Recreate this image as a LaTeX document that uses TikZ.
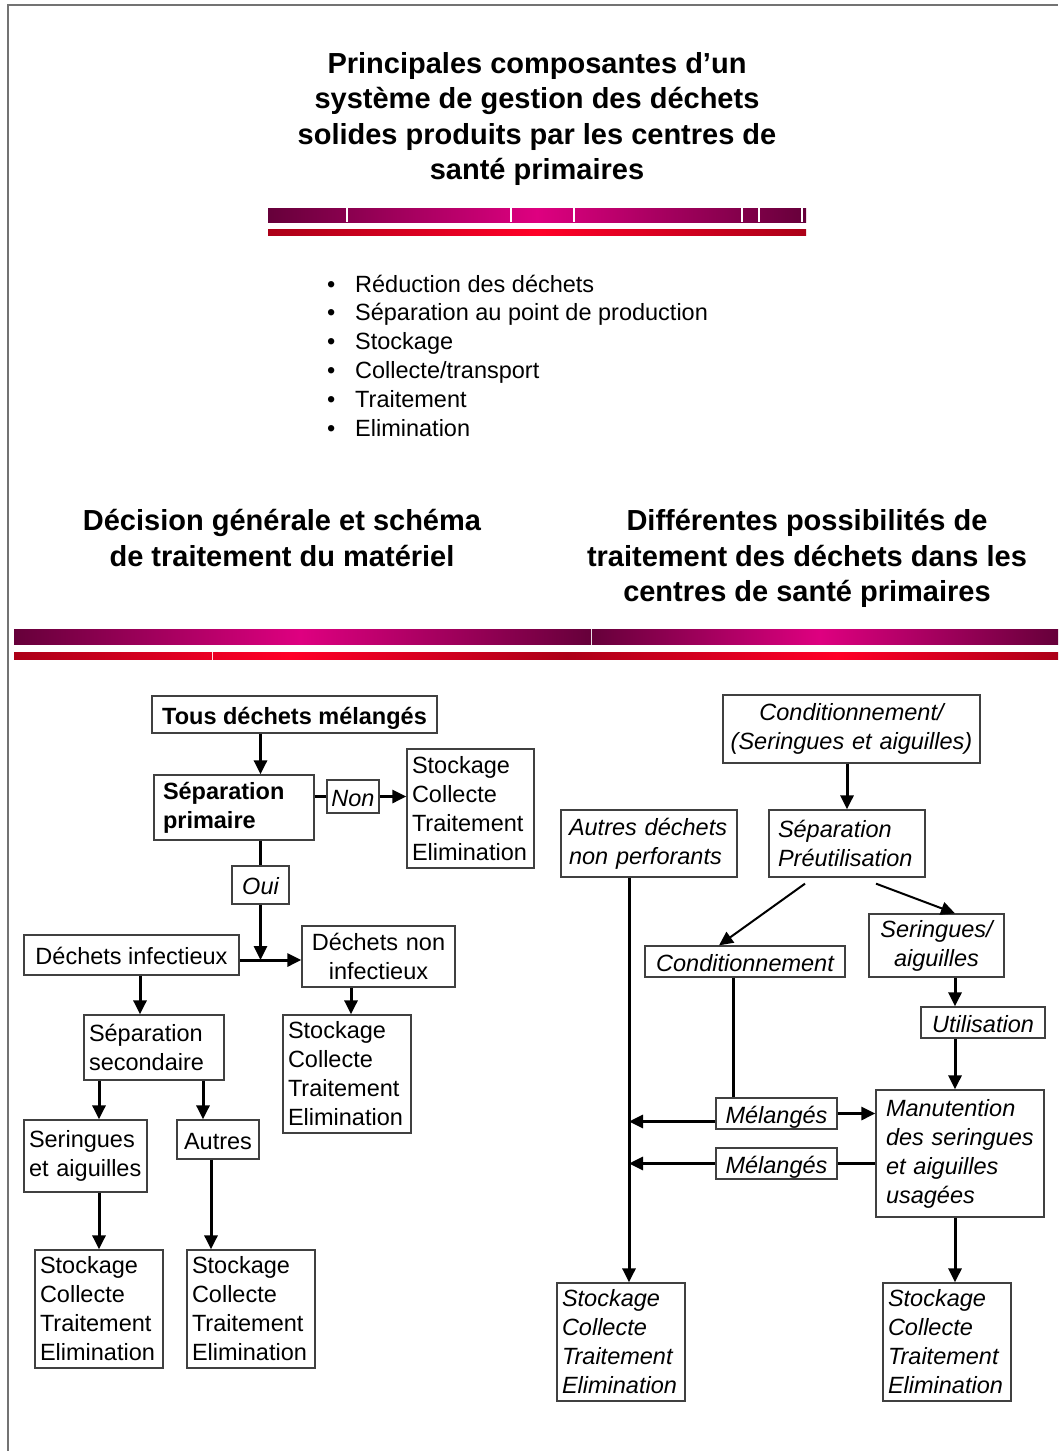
\documentclass[tikz,border=0pt]{standalone}
\usepackage{fontspec}
\setmainfont{Liberation Sans}
\usetikzlibrary{arrows.meta}
\definecolor{magdark}{RGB}{102,0,58}
\definecolor{magbright}{RGB}{222,0,128}
\definecolor{reddark}{RGB}{172,0,24}
\definecolor{redbright}{RGB}{255,0,40}

\begin{document}
\begin{tikzpicture}[x=1pt,y=-1pt,
  box/.style={draw=black!75,line width=1.3pt,inner xsep=5pt,inner ysep=2pt,align=left,font=\fontsize{23.5}{29}\selectfont},
  boxb/.style={box,font=\fontsize{23.5}{29}\selectfont\bfseries},
  boxi/.style={box,font=\fontsize{23.5}{29}\selectfont\itshape},
  oneline/.style={text height=21pt,text depth=2pt},
  arr/.style={line width=3pt,-{Triangle[length=14pt,width=13pt]}},
  ln/.style={line width=3pt},
  heading/.style={align=center,font=\fontsize{29}{35.5}\selectfont\bfseries}]

\useasboundingbox (0,0) rectangle (1058,1451);
\draw[black!55,line width=2pt] (8,1451) -- (8,5) -- (1058,5);

% title and bars
\node[heading] (title) at (537,119) {Principales composantes d’un\\système de gestion des déchets\\solides produits par les centres de\\santé primaires};
\shade[left color=magdark,right color=magbright] (268,208) rectangle (537,222);
\shade[left color=magbright,right color=magdark] (537,208) rectangle (806,222);
\foreach \xs in {347,511,574,742,759,802}
  \draw[white,line width=1.5pt] (\xs,208) -- (\xs,222);
\shade[left color=reddark,right color=redbright] (268,229) rectangle (537,235);
\shade[left color=redbright,right color=reddark] (537,229) rectangle (806,235);

% bullet list
\foreach \txt [count=\i] in {Réduction des déchets,Séparation au point de production,Stockage,Collecte/transport,Traitement,Elimination}
  \node[anchor=base west,inner sep=0pt,font=\fontsize{23.5}{29}\selectfont] (item\i) at (327,263.2+28.8*\i) {\makebox[28pt][l]{\textbullet}\txt};

% section headings
\node[heading] (lefthead) at (282,538) {Décision générale et schéma\\de traitement du matériel};
\node[heading] (righthead) at (807,558.5) {Différentes possibilités de\\traitement des déchets dans les\\centres de santé primaires};

\shade[left color=magdark,right color=magbright] (14,629) rectangle (300,644);
\shade[left color=magbright,right color=magdark] (300,629) rectangle (591,644);
\shade[left color=magdark,right color=magbright] (592,629) rectangle (820,644);
\shade[left color=magbright,right color=magdark] (820,629) rectangle (1058,644);
\shade[left color=reddark,right color=redbright!75!reddark] (14,652) rectangle (212,659);
\shade[left color=redbright!75!reddark,right color=redbright] (213,652) rectangle (290,659);
\shade[left color=redbright,right color=reddark] (290,652) rectangle (567,659);
\shade[left color=reddark,right color=redbright] (567,652) rectangle (837,659);
\shade[left color=redbright,right color=reddark] (837,652) rectangle (1058,659);

% left diagram
\node[boxb,oneline,minimum width=285pt,minimum height=37pt] (tous) at (294.5,714.5) {Tous déchets mélangés};
\node[boxb,inner xsep=9pt,text width=142pt,minimum height=65pt] (seppri) at (234,807.5) {Séparation\\primaire};
\node[boxi,oneline,inner xsep=3pt,minimum width=52pt,minimum height=33pt] (non) at (353,796.5) {Non};
\node[box,text width=117pt,minimum height=119pt] (stk1) at (470.5,808.5) {Stockage\\Collecte\\Traitement\\Elimination};
\node[boxi,oneline,minimum width=57pt,minimum height=38pt] (oui) at (260.5,885) {Oui};
\node[box,oneline,minimum width=215pt,minimum height=40pt] (dinf) at (131.5,955) {Déchets infectieux};
\node[box,align=center,text width=143pt,minimum height=61pt] (dnon) at (378.5,956.5) {Déchets non\\infectieux};
\node[box,text width=130pt,minimum height=65pt] (sepsec) at (154,1047.5) {Séparation\\secondaire};
\node[box,text width=118pt,minimum height=118pt] (stk2) at (347,1074) {Stockage\\Collecte\\Traitement\\Elimination};
\node[box,text width=113pt,minimum height=72pt] (ser) at (85.5,1156) {Seringues\\et aiguilles};
\node[box,oneline,minimum width=82pt,minimum height=39pt] (autres) at (218,1139.5) {Autres};
\node[box,text width=118pt,minimum height=118pt] (stk3) at (99,1309) {Stockage\\Collecte\\Traitement\\Elimination};
\node[box,text width=118pt,minimum height=118pt] (stk4) at (251,1309) {Stockage\\Collecte\\Traitement\\Elimination};

\draw[arr] (tous.south -| oui) -- (seppri.north -| oui);
\draw[ln] (seppri.east |- non) -- (non.west);
\draw[arr] (non.east) -- (stk1.west |- non);
\draw[ln] (seppri.south -| oui) -- (oui.north);
\coordinate (jn) at ([yshift=-5pt]dinf.east -| oui.south);
\draw[arr] (oui.south) -- (jn);
\draw[arr] ([yshift=-5pt]dinf.east) -- (dnon.west |- jn);
\draw[arr] ([xshift=8.5pt]dinf.south) -- ([xshift=8.5pt]dinf.south |- sepsec.north);
\draw[arr] ([xshift=-27.5pt]dnon.south) -- ([xshift=-27.5pt]dnon.south |- stk2.north);
\draw[arr] ([xshift=-55pt]sepsec.south) -- ([xshift=-55pt]sepsec.south |- ser.north);
\draw[arr] ([xshift=49pt]sepsec.south) -- ([xshift=49pt]sepsec.south |- autres.north);
\draw[arr] (ser.south -| stk3) -- (stk3.north);
\draw[arr] ([xshift=-7pt]autres.south) -- ([xshift=-7pt]autres.south |- stk4.north);

% right diagram
\node[boxi,align=center,text width=247pt,minimum height=68pt] (condsa) at (851.5,729) {Conditionnement/\\(Seringues et aiguilles)};
\node[boxi,inner xsep=8pt,text width=160pt,minimum height=67pt] (autdech) at (649,843.5) {Autres déchets\\non perforants};
\node[boxi,inner xsep=9pt,text width=138pt,minimum height=67pt] (sepreu) at (847,843.5) {Séparation\\Préutilisation};
\node[boxi,oneline,minimum width=200pt,minimum height=31pt] (cond) at (745,961.5) {Conditionnement};
\node[boxi,align=center,text width=125pt,minimum height=63pt] (serag) at (936.5,945.5) {Seringues/\\aiguilles};
\node[boxi,oneline,minimum width=124pt,minimum height=31pt] (util) at (983,1022.5) {Utilisation};
\node[boxi,oneline,minimum width=121pt,minimum height=31pt] (mel1) at (776.5,1113.5) {Mélangés};
\node[boxi,oneline,minimum width=121pt,minimum height=31pt] (mel2) at (776.5,1163.5) {Mélangés};
\node[boxi,inner xsep=10pt,text width=148pt,minimum height=127pt] (manut) at (960,1153.5) {Manutention\\des seringues\\et aiguilles\\usagées};
\node[boxi,text width=118pt,minimum height=118pt] (stkr1) at (621,1342) {Stockage\\Collecte\\Traitement\\Elimination};
\node[boxi,text width=118pt,minimum height=118pt] (stkr2) at (947,1342) {Stockage\\Collecte\\Traitement\\Elimination};

\coordinate (spine) at ([xshift=-20pt]autdech.south);
\draw[arr] (condsa.south -| sepreu) -- (sepreu.north);
\draw[arr,line width=2pt] ([xshift=-42pt,yshift=-6pt]sepreu.south) -- ([xshift=-26pt]cond.north);
\draw[arr,line width=2pt] ([xshift=29pt,yshift=-6pt]sepreu.south) -- ([xshift=18.5pt]serag.north);
\draw[arr] (spine) -- (spine |- stkr1.north);
\draw[ln] ([xshift=-12pt]cond.south) -- ([xshift=-12pt]cond.south |- mel1.north);
\draw[arr] ([yshift=-8pt]mel1.west) -- ([yshift=-8pt]mel1.west -| spine);
\draw[arr] (mel1.east) -- (manut.west |- mel1);
\draw[ln] (manut.west |- mel2) -- (mel2.east);
\draw[arr] (mel2.west) -- (mel2.west -| spine);
\draw[arr] ([xshift=18.5pt]serag.south) -- ([xshift=18.5pt]serag.south |- util.north);
\draw[arr] ([xshift=-28pt]util.south) -- ([xshift=-28pt]util.south |- manut.north);
\draw[arr] ([xshift=-5pt]manut.south) -- ([xshift=-5pt]manut.south |- stkr2.north);
\end{tikzpicture}
\end{document}
